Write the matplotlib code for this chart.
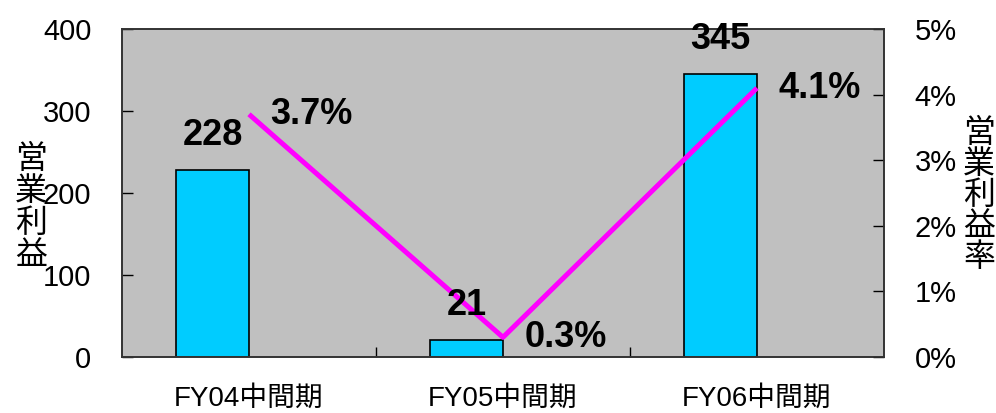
import matplotlib
matplotlib.use("Agg")
import matplotlib.pyplot as plt
from matplotlib.ticker import FuncFormatter, FixedLocator

plt.rcParams['font.family'] = ['Liberation Sans', 'Noto Sans CJK JP', 'DejaVu Sans']

categories = ["FY04中間期", "FY05中間期", "FY06中間期"]
profit = [228, 21, 345]
margin = [0.037, 0.003, 0.041]
profit_labels = ["228", "21", "345"]
margin_labels = ["3.7%", "0.3%", "4.1%"]
left_ticks = [0, 100, 200, 300, 400]
right_ticks = [0, 0.01, 0.02, 0.03, 0.04, 0.05]
left_title = "営業利益"
right_title = "営業利益率"

W, H = 996, 413
fig = plt.figure(figsize=(W / 100, H / 100), dpi=100)
ax = fig.add_axes([0.1225, 0.1356, 0.765, 0.7942])
ax.set_facecolor("#C0C0C0")
x = list(range(len(categories)))

ax.bar(x, profit, width=-0.287, align='edge', color="#00CCFF",
       edgecolor="black", linewidth=1.2, zorder=2)
ax.set_xlim(-0.5, 2.5)
ax.set_ylim(0, 400)
ax.set_yticks(left_ticks)
ax.tick_params(axis='y', direction='in', length=8, width=1, labelsize=21, pad=22)
ax.set_xticks(x)
ax.set_xticklabels(categories, fontsize=20)
ax.tick_params(axis='x', which='major', length=0, pad=21)
ax.xaxis.set_minor_locator(FixedLocator([0.5, 1.5]))
ax.tick_params(axis='x', which='minor', direction='in', length=7, width=1)
for s in ax.spines.values():
    s.set_linewidth(1.2)
    s.set_color("#333333")

ax2 = ax.twinx()
ax2.plot(x, margin, color="#FF00FF", linewidth=3.6, zorder=4, solid_capstyle='butt')
ax2.set_ylim(0, 0.05)
ax2.set_yticks(right_ticks)
ax2.yaxis.set_major_formatter(FuncFormatter(lambda v, p: f"{v*100:.0f}%"))
ax2.tick_params(axis='y', direction='in', length=8, width=1, labelsize=21, pad=22)
for s in ax2.spines.values():
    s.set_linewidth(1.2)
    s.set_color("#333333")

for xi, v, lab in zip(x, profit, profit_labels):
    ax2.annotate(lab, (xi - 0.287 / 2, v), xycoords=ax.transData,
                 xytext=(0, 25), textcoords='offset points',
                 ha='center', va='center', fontsize=26, fontweight='bold', zorder=6)
for xi, v, lab in zip(x, margin, margin_labels):
    ax2.annotate(lab, (xi, v), xytext=(45, 0), textcoords='offset points',
                 ha='center', va='center', fontsize=26, fontweight='bold', zorder=6)

# vertical stacked axis titles (one character per line)
for i, ch in enumerate(left_title):
    fig.text(31 / W, 1 - (159 + 32 * i) / H, ch, ha='center', va='center',
             fontsize=23, family=['Noto Sans CJK JP'])
for i, ch in enumerate(right_title):
    fig.text(979 / W, 1 - (133 + 31 * i) / H, ch, ha='center', va='center',
             fontsize=23, family=['Noto Sans CJK JP'])

fig.savefig("out.png", dpi=100)
